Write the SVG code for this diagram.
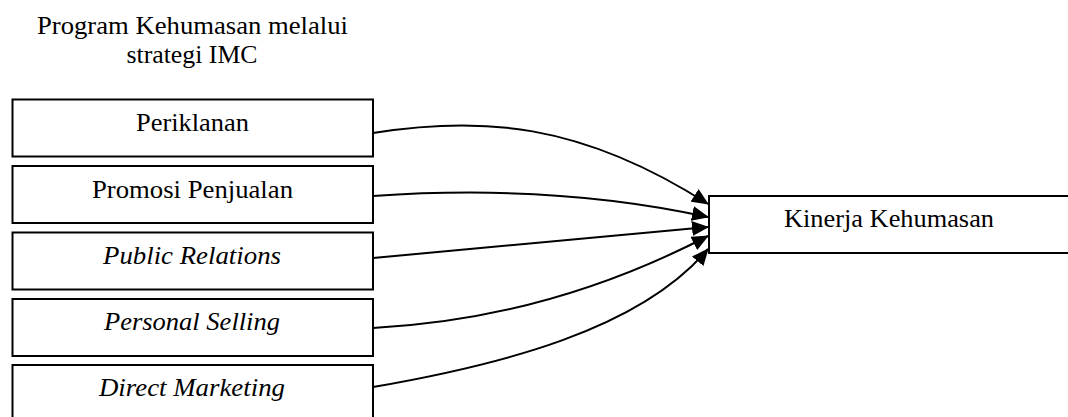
<svg xmlns="http://www.w3.org/2000/svg" width="1068" height="417" viewBox="0 0 1068 417">
  <style>
    .box { fill: #ffffff; stroke: #000000; stroke-width: 2; }
    .lbl { font-family: "Liberation Serif", "Times New Roman", serif; font-size: 25px; fill: #000000; text-anchor: middle; }
    .it { font-style: italic; }
    .edge { fill: none; stroke: #000000; stroke-width: 2; marker-end: url(#arrow); }
  </style>
  <defs>
    <marker id="arrow" markerUnits="userSpaceOnUse" markerWidth="17" markerHeight="15" refX="16" refY="7.5" orient="auto">
      <path d="M0,0 L17,7.5 L0,15 Z" fill="#000000"/>
    </marker>
  </defs>
  <rect width="1068" height="417" fill="#ffffff"/>

  <!-- heading -->
  <g id="title">
    <text class="lbl" x="192.5" y="34" textLength="311" lengthAdjust="spacingAndGlyphs">Program Kehumasan melalui</text>
    <text class="lbl" x="192" y="63" textLength="131" lengthAdjust="spacingAndGlyphs">strategi IMC</text>
  </g>

  <!-- IMC components -->
  <g id="periklanan">
    <rect class="box" x="12.5" y="99.5" width="360.5" height="57"/>
    <text class="lbl" x="192.5" y="131" textLength="113" lengthAdjust="spacingAndGlyphs">Periklanan</text>
  </g>
  <g id="promosi-penjualan">
    <rect class="box" x="12.5" y="166" width="360.5" height="57"/>
    <text class="lbl" x="192.5" y="198" textLength="201" lengthAdjust="spacingAndGlyphs">Promosi Penjualan</text>
  </g>
  <g id="public-relations">
    <rect class="box" x="12.5" y="232.5" width="360.5" height="57"/>
    <text class="lbl it" x="192" y="264" textLength="178" lengthAdjust="spacingAndGlyphs">Public Relations</text>
  </g>
  <g id="personal-selling">
    <rect class="box" x="12.5" y="299" width="360.5" height="57"/>
    <text class="lbl it" x="192" y="330" textLength="176" lengthAdjust="spacingAndGlyphs">Personal Selling</text>
  </g>
  <g id="direct-marketing">
    <rect class="box" x="12.5" y="365" width="360.5" height="60"/>
    <text class="lbl it" x="192" y="396" textLength="186" lengthAdjust="spacingAndGlyphs">Direct Marketing</text>
  </g>

  <!-- outcome -->
  <g id="kinerja-kehumasan">
    <rect class="box" x="709" y="196" width="370" height="57"/>
    <text class="lbl" x="889" y="227" textLength="210" lengthAdjust="spacingAndGlyphs">Kinerja Kehumasan</text>
  </g>

  <!-- influence arrows -->
  <g id="connectors">
    <path class="edge" d="M373,133 C480,116 580,122 708,204"/>
    <path class="edge" d="M373,196 C460,190 580,189 708,217"/>
    <path class="edge" d="M373,258 L708,227"/>
    <path class="edge" d="M373,328 C490,322 600,292 708,236"/>
    <path class="edge" d="M373,387 C500,365 640,330 708,249"/>
  </g>
</svg>
